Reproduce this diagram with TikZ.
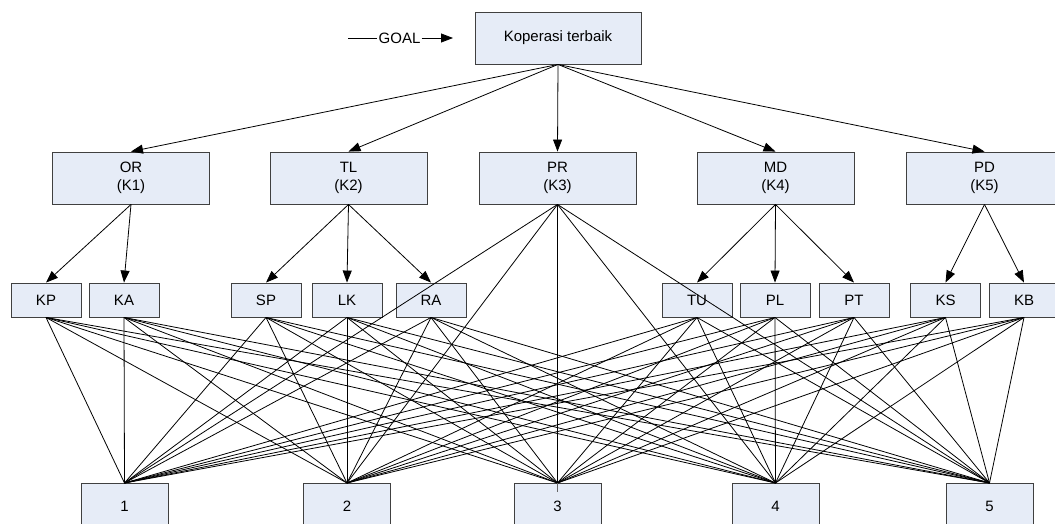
\documentclass[tikz,border=0pt]{standalone}
\usepackage{fontspec}
\setmainfont{Liberation Sans}
\usetikzlibrary{arrows.meta}
\definecolor{boxfill}{RGB}{230,236,247}
\definecolor{boxline}{RGB}{64,64,64}
\tikzset{
  box/.style={draw=boxline, fill=boxfill, line width=0.9pt, inner sep=0pt, align=center,
    font=\fontsize{15}{18}\selectfont},
  topbox/.style={box, minimum width=166pt, minimum height=52pt},
  critbox/.style={box, minimum width=157pt, minimum height=52pt},
  subbox/.style={box, minimum width=70pt, minimum height=34pt},
  altbox/.style={box, minimum width=87pt, minimum height=52pt, anchor=north},
  link/.style={draw=black, line width=0.8pt},
  arr/.style={link, -{Triangle[length=12pt,width=9pt]}},
}
\begin{document}
\begin{tikzpicture}[x=1pt,y=-1pt]
\useasboundingbox (0,0) rectangle (1055,524);
% top
\node[topbox] (top) at (558,38) {Koperasi terbaik};
\coordinate (gs) at (348,38);
\coordinate (ge) at (453,38);
\node[inner sep=1pt, font=\fontsize{15}{18}\selectfont] (goal) at (399.5,38) {GOAL};
\draw[link] (gs) -- (goal.west);
\draw[arr] (goal.east) -- (ge);
% criteria
\node[critbox] (OR) at (131,178) {OR\\(K1)};
\node[critbox] (TL) at (348.5,178) {TL\\(K2)};
\node[critbox] (PR) at (557.5,178) {PR\\(K3)};
\node[critbox] (MD) at (775.5,178) {MD\\(K4)};
\node[critbox] (PD) at (984.5,178) {PD\\(K5)};
% sub criteria
\node[subbox] (KP) at (46,300) {KP};
\node[subbox] (KA) at (124,300) {KA};
\node[subbox] (SP) at (266,300) {SP};
\node[subbox] (LK) at (347,300) {LK};
\node[subbox] (RA) at (431,300) {RA};
\node[subbox] (TU) at (697,300) {TU};
\node[subbox] (PL) at (775,300) {PL};
\node[subbox] (PT) at (854,300) {PT};
\node[subbox] (KS) at (945.5,300) {KS};
\node[subbox] (KB) at (1024,300) {KB};
% alternatives
\node[altbox] (A1) at (124.5,483) {\raisebox{6pt}{1}};
\node[altbox] (A2) at (347,483) {\raisebox{6pt}{2}};
\node[altbox] (A3) at (557.5,483) {\raisebox{6pt}{3}};
\node[altbox] (A4) at (775.5,483) {\raisebox{6pt}{4}};
\node[altbox] (A5) at (989.5,483) {\raisebox{6pt}{5}};
% arrows
\foreach \c in {OR,TL,PR,MD,PD} \draw[arr] (top.south) -- (\c.north);
\foreach \s in {KP,KA} \draw[arr] (OR.south) -- (\s.north);
\foreach \s in {SP,LK,RA} \draw[arr] (TL.south) -- (\s.north);
\foreach \s in {TU,PL,PT} \draw[arr] (MD.south) -- (\s.north);
\foreach \s in {KS,KB} \draw[arr] (PD.south) -- (\s.north);
% fans
\foreach \s in {KP,KA,SP,LK,RA,TU,PL,PT,KS,KB,PR}
  \foreach \a in {A1,A2,A3,A4,A5}
    \draw[link] (\s.south) -- (\a.north);
\draw[link, draw=black!60] (A3.north) -- ++(0,9);
\end{tikzpicture}
\end{document}
